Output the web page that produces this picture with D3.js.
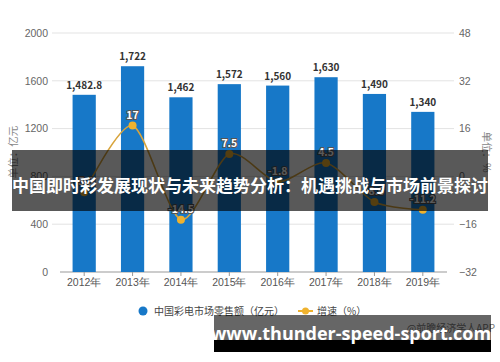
<!DOCTYPE html>
<html>
<head>
<meta charset="utf-8">
<style>
  body { margin: 0; background: #fff; }
  svg { display: block; font-family: "Noto Sans CJK SC", "Noto Sans", sans-serif; }
</style>
<script src="https://d3js.org/d3.v7.min.js"></script>
</head>
<body>
<svg id="chart" width="500" height="362"></svg>
<script>
var years = ["2012年", "2013年", "2014年", "2015年", "2016年", "2017年", "2018年", "2019年"];
var sales = [1482.8, 1722, 1462, 1572, 1560, 1630, 1490, 1340];
var salesLabels = ["1,482.8", "1,722", "1,462", "1,572", "1,560", "1,630", "1,490", "1,340"];
var growth = [-5.3, 17, -14.5, 7.5, -1.8, 4.5, -8.6, -11.2];
var leftTicks = [0, 400, 800, 1200, 1600, 2000];
var rightTicks = [-32, -16, 0, 16, 32, 48];

var svg = d3.select("#chart");

var x = d3.scaleBand().domain(years).range([60, 447]).paddingInner(0.52).paddingOuter(0.26);
var yL = d3.scaleLinear().domain([0, 2000]).range([272, 33]);
var yR = d3.scaleLinear().domain([-32, 48]).range([272, 33]);

// gridlines
svg.append("g").selectAll("line").data(leftTicks.slice(1)).join("line")
  .attr("x1", 52).attr("x2", 454)
  .attr("y1", d => yL(d)).attr("y2", d => yL(d))
  .attr("stroke", "#e3e3e3").attr("stroke-width", 1);

// left axis
var gL = svg.append("g").attr("transform", "translate(52,0)")
  .call(d3.axisLeft(yL).tickValues(leftTicks).tickFormat(d3.format("d")).tickSize(0).tickPadding(4));
gL.select(".domain").remove();
gL.selectAll("text").attr("fill", "#666").style("font-size", "10.5px");

// right axis
var gR = svg.append("g").attr("transform", "translate(456,0)")
  .call(d3.axisRight(yR).tickValues(rightTicks).tickSize(0).tickPadding(3));
gR.select(".domain").remove();
gR.selectAll("text").attr("fill", "#666").style("font-size", "10.5px");

// bottom axis
var gX = svg.append("g").attr("transform", "translate(0,272)")
  .call(d3.axisBottom(x).tickSize(4).tickPadding(3));
gX.select(".domain").attr("stroke", "#999").attr("d", "M60,0H447");
gX.selectAll(".tick line").attr("stroke", "#999");
gX.selectAll("text").attr("fill", "#555").style("font-size", "10.5px");

// axis titles
svg.append("text").attr("transform", "translate(17,152) rotate(-90)")
  .attr("text-anchor", "middle").attr("fill", "#888").style("font-size", "10.5px").text("单位：亿元");
svg.append("text").attr("transform", "translate(483,152) rotate(90)")
  .attr("text-anchor", "middle").attr("fill", "#888").style("font-size", "10.5px").text("单位：%");

// bars
svg.append("g").selectAll("rect").data(sales).join("rect")
  .attr("x", (d, i) => x(years[i])).attr("width", x.bandwidth())
  .attr("y", d => yL(d)).attr("height", d => yL(0) - yL(d))
  .attr("fill", "#1778c8");

svg.append("g").selectAll("text").data(sales).join("text")
  .attr("x", (d, i) => x(years[i]) + x.bandwidth() / 2)
  .attr("y", d => yL(d) - 6)
  .attr("text-anchor", "middle").attr("fill", "#333")
  .style("font-size", "10px").style("font-weight", "bold")
  .text((d, i) => salesLabels[i]);

// growth line
var line = d3.line()
  .x((d, i) => x(years[i]) + x.bandwidth() / 2)
  .y(d => yR(d))
  .curve(d3.curveCardinal.tension(0.2));

svg.append("path").datum(growth).attr("d", line)
  .attr("fill", "none").attr("stroke", "#d8a43c").attr("stroke-width", 1.6);

svg.append("g").selectAll("circle").data(growth).join("circle")
  .attr("cx", (d, i) => x(years[i]) + x.bandwidth() / 2)
  .attr("cy", d => yR(d)).attr("r", 4)
  .attr("fill", "#efb22e");

svg.append("g").selectAll("text").data(growth).join("text")
  .attr("x", (d, i) => x(years[i]) + x.bandwidth() / 2)
  .attr("y", d => yR(d) - 7)
  .attr("text-anchor", "middle").attr("fill", "#fff")
  .attr("stroke", "#555").attr("stroke-width", 2).attr("paint-order", "stroke")
  .style("font-size", "10.5px").style("font-weight", "bold")
  .text(d => d);

// legend
var lg = svg.append("g").style("font-size", "10px").attr("fill", "#444");
lg.append("circle").attr("cx", 143).attr("cy", 311).attr("r", 4.5).attr("fill", "#1778c8");
lg.append("text").attr("x", 154).attr("y", 315).text("中国彩电市场零售额（亿元）");
lg.append("line").attr("x1", 298).attr("x2", 313).attr("y1", 311).attr("y2", 311)
  .attr("stroke", "#efb22e").attr("stroke-width", 2);
lg.append("circle").attr("cx", 305.5).attr("cy", 311).attr("r", 3.5).attr("fill", "#efb22e");
lg.append("text").attr("x", 317).attr("y", 315).text("增速（%）");

// source
svg.append("text").attr("x", 495).attr("y", 332).attr("text-anchor", "end")
  .attr("fill", "#777").style("font-size", "10px").text("@前瞻经济学人APP");

// title overlay
svg.append("rect").attr("x", 12).attr("y", 150).attr("width", 476).attr("height", 61)
  .attr("fill", "#000").attr("fill-opacity", 0.65);
svg.append("text").attr("x", 250).attr("y", 192).attr("text-anchor", "middle")
  .attr("fill", "#fff").style("font-size", "17px").style("font-weight", "bold")
  .text("中国即时彩发展现状与未来趋势分析：机遇挑战与市场前景探讨");

// bottom banner
svg.append("rect").attr("x", 214).attr("y", 315).attr("width", 277).attr("height", 25)
  .attr("fill", "#000").attr("fill-opacity", 0.6);
svg.append("rect").attr("x", 214).attr("y", 340).attr("width", 277).attr("height", 12)
  .attr("fill", "#000");
svg.append("text").attr("x", 351).attr("y", 340).attr("text-anchor", "middle")
  .attr("fill", "#fff").style("font-family", "'Open Sans', 'DejaVu Sans', sans-serif")
  .style("font-size", "18px").style("font-weight", "bold")
  .text("www.thunder-speed-sport.com");
</script>
</body>
</html>
